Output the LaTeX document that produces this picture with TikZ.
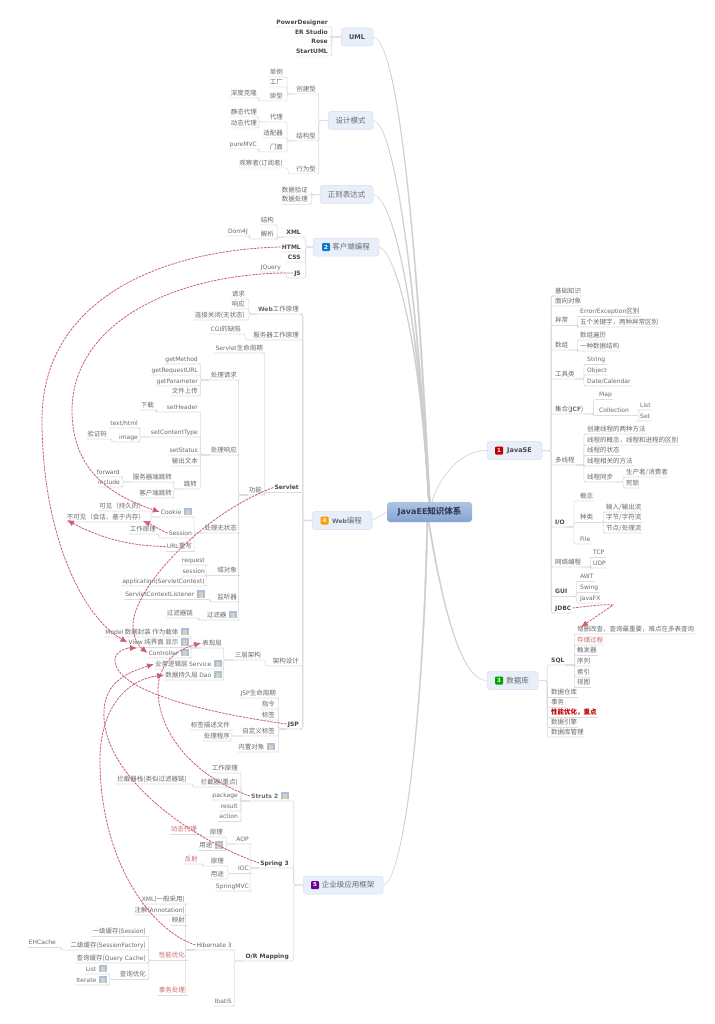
\documentclass[tikz,border=0pt]{standalone}
\usepackage{fontspec}
\usetikzlibrary{arrows.meta,calc}
\setmainfont{Noto Sans CJK SC}
\newfontfamily\latf{DejaVu Sans}
\newcommand\En[1]{{\latf\fontsize{6}{8}\selectfont #1}}
\definecolor{txt}{HTML}{6A6A6A}
\definecolor{txtb}{HTML}{484848}
\definecolor{ln}{HTML}{DDDDDD}
\definecolor{spk}{HTML}{CDCDCD}
\definecolor{redl}{HTML}{CB5F73}
\definecolor{redt}{HTML}{CF6A6A}
\definecolor{boxf}{HTML}{E8EFFA}
\definecolor{boxd}{HTML}{D6E0F0}
\definecolor{rootT}{HTML}{AFC4E4}
\definecolor{rootB}{HTML}{84A3D2}
\definecolor{rootC}{HTML}{2F3B55}
\newcommand\ico{\kern3pt\raisebox{-0.8pt}{\rlap{\textcolor[HTML]{A9BFE0}{\rule{7.5pt}{7.5pt}}}\kern1.5pt\rlap{\textcolor[HTML]{D9D2B0}{\rule{4pt}{5.5pt}}}\kern-1.5pt\kern7.5pt}}
\tikzset{
 t/.style={inner xsep=1pt,inner ysep=1pt,text height=6pt,text depth=1.5pt,text=txt,font=\fontsize{6.5}{8}\selectfont},
 lt/.style={t,anchor=east},
 rt/.style={t,anchor=west},
 en/.style={font=\latf\fontsize{6}{8}\selectfont},
 enb/.style={font=\latf\bfseries\fontsize{6}{8}\selectfont,text=txtb},
 rd/.style={text=redt},
 mainbox/.style={rectangle,rounded corners=3pt,fill=boxf,draw=boxd,line width=.5pt,minimum height=18pt,inner sep=0pt,text=txt,font=\fontsize{7.5}{9}\selectfont},
 rootbox/.style={rectangle,rounded corners=3pt,top color=rootT,bottom color=rootB,minimum height=20pt,inner sep=0pt,text=rootC,font=\bfseries\fontsize{8.5}{10}\selectfont},
 numi/.style={rectangle,rounded corners=1pt,fill=#1,minimum size=8pt,inner sep=0pt,text=white,font=\latf\bfseries\fontsize{5.5}{6}\selectfont},
 branch/.style={draw=ln,line width=.6pt,rounded corners=2pt},
 spoke/.style={fill=spk,draw=spk,line width=.2pt},
 rel/.style={draw=redl,line width=.8pt,dash pattern=on 2.5pt off 1pt,-{Latex[length=7pt,width=6pt]}},
 x=1pt,y=-1pt
}
% branches: \bx from a main box, \bl from a labelled node (left-growing), \br, \ry likewise (right-growing)
\newcommand\bx[3]{\foreach \c in {#3}{\draw[branch] (#1.west) -- ++(-#2,0) |- (\c.south east) -- (\c.south west);}}
\newcommand\bl[3]{\foreach \c in {#3}{\draw[branch] (#1.south west) -- ++(-#2,0) |- (\c.south east) -- (\c.south west);}}
\newcommand\ry[3]{\foreach \c in {#3}{\draw[branch] (#1.east) -- ++(#2,0) |- (\c.south west) -- (\c.south east);}}
\newcommand\br[3]{\foreach \c in {#3}{\draw[branch] (#1.south east) -- ++(#2,0) |- (\c.south west) -- (\c.south east);}}
\begin{document}
\begin{tikzpicture}
\path[use as bounding box,fill=white] (0,0) rectangle (714,1024);
% main boxes
\node[rootbox,minimum width=85pt] (root) at (429.5,512) {\En{\bfseries\fontsize{8}{10}\selectfont JavaEE}知识体系};
\node[mainbox,minimum width=32pt,font=\latf\bfseries\fontsize{6.5}{8}\selectfont,text=txtb] (uml) at (357,37) {UML};
\node[mainbox,minimum width=45pt] (sjms) at (350.5,120.5) {设计模式};
\node[mainbox,minimum width=53pt] (zz) at (346.5,194.5) {正则表达式};
\node[mainbox,minimum width=66pt] (khd) at (346,247) {\kern10pt 客户端编程};
\node[mainbox,minimum width=60pt] (web) at (342,520.5) {\kern10pt\En{\bfseries Web}编程};
\node[mainbox,minimum width=80pt] (qyj) at (343,885) {\kern10pt 企业级应用框架};
\node[mainbox,minimum width=55pt,font=\latf\bfseries\fontsize{6.5}{8}\selectfont,text=txtb] (jse) at (514.5,450.5) {\kern10pt JavaSE};
\node[mainbox,minimum width=51pt] (db) at (512.5,680.5) {\kern10pt 数据库};
\node[numi=red!75!black] (n1) at (499,450.5) {1};
\node[numi=cyan!55!blue] (n2) at (326,247) {2};
\node[numi=orange!75!yellow] (n4) at (324.5,520.5) {4};
\node[numi=violet!85!blue] (n5) at (315,885) {5};
\node[numi=green!65!black] (n3) at (499,680.5) {3};
% spokes
\fill[spoke] (root.north)++(-1.2,0) .. controls (415,200) and (395,40) .. (uml.east) .. controls (395.5,40) and (416,200) .. ($(root.north)+(.8,0)$) -- cycle;
\fill[spoke] (root.north)++(-1.2,0) .. controls (412,230) and (390,122) .. (sjms.east) .. controls (390.5,122) and (413,230) .. ($(root.north)+(.8,0)$) -- cycle;
\fill[spoke] (root.north)++(-1.2,0) .. controls (415,280) and (390,197) .. (zz.east) .. controls (390.5,197) and (416,280) .. ($(root.north)+(.8,0)$) -- cycle;
\fill[spoke] (root.north)++(-1.2,0) .. controls (418,320) and (392,250) .. (khd.east) .. controls (392.5,250) and (419,320) .. ($(root.north)+(.8,0)$) -- cycle;
\draw[draw=spk,line width=.6pt] (root.north)++(2.5,0) .. controls (442,470) and (465,450) .. (jse.west);
\draw[draw=ln,line width=.7pt] (web.east) -- (root.west);
\fill[spoke] (root.south)++(0,0) .. controls (450,650) and (470,680) .. (db.west) .. controls (470,680.5) and (449,650) .. ($(root.south)+(-1.5,0)$) -- cycle;
\fill[spoke] (root.south)++(-3,0) .. controls (423,700) and (405,880) .. (qyj.east) .. controls (405,880.5) and (424.5,700) .. ($(root.south)+(-1.5,0)$) -- cycle;
% UML
\node[lt,enb] (pd) at (329,22) {PowerDesigner};
\node[lt,enb] (ers) at (329,32) {ER Studio};
\node[lt,enb] (rose) at (329,41) {Rose};
\node[lt,enb] (suml) at (329,51) {StartUML};
\bx{uml}{9}{pd,ers,rose,suml}
% design patterns
\node[lt] (cjx) at (317,89) {创建型};
\node[lt] (jgx) at (317,136) {结构型};
\node[lt] (xwx) at (317,169) {行为型};
\bx{sjms}{9}{cjx,jgx,xwx}
\node[lt] (dl) at (284,72) {单例};
\node[lt] (gc) at (284,82) {工厂};
\node[lt] (yx) at (284,96) {原型};
\bl{cjx}{8}{dl,gc,yx}
\node[lt] (sdkl) at (258,93) {深度克隆};
\bl{yx}{10}{sdkl}
\node[lt] (dai) at (284,117) {代理};
\node[lt] (spq) at (284,133) {适配器};
\node[lt] (mm) at (284,147) {门面};
\bl{jgx}{8}{dai,spq,mm}
\node[lt] (jtdl) at (258,112) {静态代理};
\node[lt] (dtdl) at (258,123) {动态代理};
\bl{dai}{10}{jtdl,dtdl}
\node[lt,en] (pmvc) at (258,144) {pureMVC};
\bl{mm}{10}{pmvc}
\node[lt] (gcz) at (284,163) {观察者(订阅者)};
\bl{xwx}{7}{gcz}
% regex
\node[lt] (sjyz) at (309,190) {数据验证};
\node[lt] (sjcl) at (309,199.5) {数据处理};
\bx{zz}{8}{sjyz,sjcl}
% client
\node[lt,enb] (xml) at (302,232) {XML};
\node[lt,enb] (html) at (302,247) {HTML};
\node[lt,enb] (css) at (302,257) {CSS};
\node[lt,enb] (js) at (302,273) {JS};
\bx{khd}{7}{xml,html,css,js}
\node[lt] (jg) at (275,220) {结构};
\node[lt] (jx) at (275,234) {解析};
\bl{xml}{8}{jg,jx}
\node[lt,en] (dom) at (249,231) {Dom4J};
\bl{jx}{10}{dom}
\node[lt,en] (jq) at (282,267) {JQuery};
\bl{js}{7}{jq}
% web
\node[lt] (wgz) at (300,309) {\En{\bfseries Web}工作原理};
\node[lt] (fwq) at (300,335) {服务器工作原理};
\node[lt,enb] (servlet) at (300,487.5) {Servlet};
\node[lt] (jgsj) at (300,661) {架构设计};
\node[lt,enb] (jsp) at (300,724) {JSP};
\bx{web}{9}{wgz,fwq,servlet,jgsj,jsp}
\foreach \c in {wgz,jsp}{\draw[draw=ln,line width=1.2pt,rounded corners=2pt] (web.west) -- ++(-9,0) |- (\c.south east);}
\node[lt] (qq) at (246,294) {请求};
\node[lt] (xy) at (246,304) {响应};
\node[lt] (ljgb) at (246,315) {连接关闭(无状态)};
\bl{wgz}{8}{qq,xy,ljgb}
\node[lt] (cgi) at (242,329) {\En{CGI}的缺陷};
\bl{fwq}{7}{cgi}
\node[lt] (smzq) at (264,348) {\En{Servlet}生命周期};
\node[lt] (gn) at (263,490) {功能};
\bl{servlet}{9}{smzq,gn}
\node[lt] (clqq) at (238,375) {处理请求};
\node[lt] (clxy) at (238,450) {处理响应};
\node[lt] (clwz) at (238,528) {处理无状态};
\node[lt] (ydx) at (238,570.5) {域对象};
\node[lt] (jtq) at (238,597) {监听器};
\node[lt] (glq) at (238,615) {过滤器\ico};
\bl{gn}{9}{clqq,clxy,clwz,ydx,jtq,glq}
\node[lt,en] (gm) at (199,359) {getMethod};
\node[lt,en] (gr) at (199,370) {getRequestURL};
\node[lt,en] (gp) at (199,381) {getParameter};
\node[lt] (wjsc) at (199,391) {文件上传};
\bl{clqq}{9}{gm,gr,gp,wjsc}
\node[lt,en] (sh) at (199,407) {setHeader};
\node[lt,en] (sct) at (199,432) {setContentType};
\node[lt,en] (ss) at (199,450) {setStatus};
\node[lt] (scwb) at (199,461) {输出文本};
\node[lt] (tz) at (198,484) {跳转};
\bl{clxy}{9}{sh,sct,ss,scwb,tz}
\node[lt] (xz) at (155,405) {下载};
\bl{sh}{9}{xz}
\node[lt,en] (th) at (139,423) {text/html};
\node[lt,en] (img) at (139,437) {image};
\bl{sct}{10}{th,img}
\node[lt] (yzm) at (108,434) {验证码};
\bl{img}{6}{yzm}
\node[lt] (fwd) at (173,477) {服务器端跳转};
\node[lt] (khtz) at (173,493) {客户端跳转};
\bl{tz}{9}{fwd,khtz}
\node[lt,en] (fw) at (121,472) {forward};
\node[lt,en] (inc) at (121,482) {include};
\bl{fwd}{9}{fw,inc}
\node[lt] (cookie) at (193,512) {\En{Cookie}\ico};
\node[lt,en] (sess) at (193,533) {Session};
\node[lt] (url) at (193,546.5) {\En{URL}重写};
\bl{clwz}{9}{cookie,sess,url}
\node[lt] (kj) at (146,506) {可见（持久的）};
\node[lt] (bkj) at (146,517) {不可见（会话，基于内存）};
\bl{cookie}{9}{kj,bkj}
\node[lt] (gzyl) at (157,529) {工作原理};
\bl{sess}{9}{gzyl}
\node[lt,en] (req) at (206,560) {request};
\node[lt,en] (sn) at (206,571) {session};
\node[lt,en] (app) at (206,581) {application(ServletContext)};
\bl{ydx}{10}{req,sn,app}
\node[lt] (scl) at (206,594.5) {\En{ServletContextListener}\ico};
\bl{jtq}{6}{scl}
\node[lt] (glql) at (194,613) {过滤器链};
\bl{glq}{7}{glql}
\node[lt] (scjg) at (262,655) {三层架构};
\bl{jgsj}{6}{scjg}
\node[lt] (bxc) at (223,643) {表现层};
\node[lt] (svc) at (223,664) {业务逻辑层 \En{Service}\ico};
\node[lt] (dao) at (223,675) {数据持久层 \En{Dao}\ico};
\bl{scjg}{10}{bxc,svc,dao}
\node[lt] (model) at (190,632) {\En{Model} 数据封装 作为载体\ico};
\node[lt] (view) at (190,642.5) {\En{View} 纯界面 显示\ico};
\node[lt] (ctrl) at (190,653) {\En{Controller}\ico};
\bl{bxc}{10}{model,view,ctrl}
\node[lt] (jspsm) at (277,693) {\En{JSP}生命周期};
\node[lt] (zl) at (276,704) {指令};
\node[lt] (bq) at (276,715) {标签};
\node[lt] (zdy) at (276,731) {自定义标签};
\node[lt] (nz) at (276,747) {内置对象\ico};
\bl{jsp}{8}{jspsm,zl,bq,zdy,nz}
\node[lt] (bqms) at (231,725) {标签描述文件};
\node[lt] (clcx) at (231,736) {处理程序};
\bl{zdy}{10}{bqms,clcx}
% enterprise
\node[lt] (struts) at (290,796) {\En{\bfseries Struts 2}\ico};
\node[lt,enb] (spring) at (290,863) {Spring 3};
\node[lt,enb] (orm) at (290,956) {O/R Mapping};
\bx{qyj}{9}{struts,spring,orm}
\node[lt] (gz2) at (239,768) {工作原理};
\node[lt] (ljq) at (239,782) {拦截器(重点)};
\node[lt,en] (pkg) at (239,795) {package};
\node[lt,en] (res) at (239,806) {result};
\node[lt,en] (act) at (239,816.5) {action};
\bl{struts}{9}{gz2,ljq,pkg,res,act}
\node[lt] (ljz) at (188,779) {拦截器栈(类似过滤器链)};
\bl{ljq}{7}{ljz}
\node[lt,en] (aop) at (250,839) {AOP};
\node[lt,en] (ioc) at (250,868.5) {IOC};
\node[lt,en] (smvc) at (250,886) {SpringMVC};
\bl{spring}{9}{aop,ioc,smvc}
\node[lt] (yl1) at (224,832) {原理};
\node[lt] (yt1) at (224,845.5) {用途\ico};
\bl{aop}{9}{yl1,yt1}
\node[lt,rd] (dd2) at (198,829.5) {动态代理};
\bl{yl1}{7}{dd2}
\node[lt] (yl2) at (225,861) {原理};
\node[lt] (yt2) at (225,874) {用途};
\bl{ioc}{9}{yl2,yt2}
\node[lt,rd] (fs) at (199,859) {反射};
\bl{yl2}{7}{fs}
\node[lt] (hib) at (233,945) {\En{Hibernate 3}};
\node[lt,en] (ibs) at (233,1001) {IbatiS};
\bl{orm}{10}{hib,ibs}
\node[lt] (hx) at (186,899) {\En{XML}(一般采用)};
\node[lt] (hz) at (186,910) {注解(\En{Annotation})};
\node[lt] (ys) at (186,920.5) {映射};
\node[lt,rd] (xn) at (186,955.5) {性能优化};
\node[lt,rd] (sw) at (186,990.5) {事务处理};
\bl{hib}{10}{hx,hz,ys,xn,sw}
\node[lt] (c1) at (147,931.5) {一级缓存(\En{Session})};
\node[lt] (c2) at (147,945) {二级缓存(\En{SessionFactory})};
\node[lt] (c3) at (147,958) {查询缓存(\En{Query Cache})};
\node[lt] (cy) at (147,974.5) {查询优化};
\bl{xn}{9}{c1,c2,c3,cy}
\node[lt,en] (ehc) at (57,942.5) {EHCache};
\bl{c2}{8}{ehc}
\node[lt] (lst) at (108,969) {\En{List}\ico};
\node[lt] (itr) at (108,980) {\En{Iterate}\ico};
\bl{cy}{9}{lst,itr}
% JavaSE
\node[rt] (a1) at (554,291) {基础知识};
\node[rt] (a2) at (554,301) {面向对象};
\node[rt] (a3) at (554,320.5) {异常};
\node[rt] (a4) at (554,345) {数组};
\node[rt] (a5) at (554,374) {工具类};
\node[rt] (a6) at (554,409) {集合(\En{\bfseries JCF})};
\node[rt] (a7) at (554,460) {多线程};
\node[rt,enb] (a8) at (554,522) {I/O};
\node[rt] (a9) at (554,562) {网络编程};
\node[rt,enb] (a10) at (554,591.5) {GUI};
\node[rt,enb] (a11) at (554,608) {JDBC};
\ry{jse}{9}{a1,a2,a3,a4,a5,a6,a7,a8,a9,a10,a11}
\draw[draw=ln,line width=1pt,rounded corners=2pt] (jse.east) -- ++(9,0) |- (a1.south west);
\draw[draw=ln,line width=1pt,rounded corners=2pt] (jse.east) -- ++(9,0) |- (a11.south west);
\node[rt] (b1) at (579,311.5) {\En{Error/Exception}区别};
\node[rt] (b2) at (579,322) {五个关键字，两种异常区别};
\br{a3}{8}{b1,b2}
\node[rt] (b3) at (579,335) {数组遍历};
\node[rt] (b4) at (579,346) {一种数据结构};
\br{a4}{8}{b3,b4}
\node[rt,en] (b5) at (586,359.5) {String};
\node[rt,en] (b6) at (586,370) {Object};
\node[rt,en] (b7) at (586,381) {Date/Calendar};
\br{a5}{8}{b5,b6,b7}
\node[rt,en] (b8) at (598,394.5) {Map};
\node[rt,en] (b9) at (598,410.5) {Collection};
\br{a6}{9}{b8,b9}
\node[rt,en] (b10) at (639,405) {List};
\node[rt,en] (b11) at (639,416) {Set};
\br{b9}{9}{b10,b11}
\node[rt] (t1) at (586,429) {创建线程的两种方法};
\node[rt] (t2) at (586,440) {线程的概念，线程和进程的区别};
\node[rt] (t3) at (586,450.5) {线程的状态};
\node[rt] (t4) at (586,461) {线程相关的方法};
\node[rt] (t5) at (586,477) {线程同步};
\br{a7}{8}{t1,t2,t3,t4,t5}
\node[rt] (t6) at (625,472) {生产者/消费者};
\node[rt] (t7) at (625,483) {死锁};
\br{t5}{9}{t6,t7}
\node[rt] (i1) at (579,496) {概念};
\node[rt] (i2) at (579,517.5) {种类};
\node[rt,en] (i3) at (579,539) {File};
\br{a8}{8}{i1,i2,i3}
\node[rt] (i4) at (605,507) {输入/输出流};
\node[rt] (i5) at (605,517.5) {字节/字符流};
\node[rt] (i6) at (605,528) {节点/处理流};
\br{i2}{9}{i4,i5,i6}
\node[rt,en] (n6) at (592,552.5) {TCP};
\node[rt,en] (n7) at (592,563) {UDP};
\br{a9}{8}{n6,n7}
\node[rt,en] (g1) at (579,576.5) {AWT};
\node[rt,en] (g2) at (579,587.5) {Swing};
\node[rt,en] (g3) at (579,598) {JavaFX};
\br{a10}{8}{g1,g2,g3}
% database
\node[rt,enb] (sql) at (550,660) {SQL};
\node[rt] (d1) at (550,692.5) {数据仓库};
\node[rt] (d2) at (550,702.5) {事务};
\node[rt,text=red!75!black,font=\bfseries\fontsize{6.5}{8}\selectfont] (d3) at (550,712.5) {性能优化，重点};
\node[rt] (d4) at (550,722.5) {数据引擎};
\node[rt] (d5) at (550,732) {数据库管理};
\ry{db}{9}{sql,d1,d2,d3,d4,d5}
\node[rt] (s1) at (576,629) {增删改查，查询最重要，难点在多表查询};
\node[rt,rd] (s2) at (576,640) {存储过程};
\node[rt] (s3) at (576,650.5) {触发器};
\node[rt] (s4) at (576,661) {序列};
\node[rt] (s5) at (576,672) {索引};
\node[rt] (s6) at (576,682.5) {视图};
\br{sql}{9}{s1,s2,s3,s4,s5,s6}
% relations
\draw[rel] (html.west) .. controls (160,250) and (42,300) .. (42,420) .. controls (42,530) and (80,615) .. (view.west);
\draw[rel] (js.west) .. controls (180,272) and (73,320) .. (72,410) .. controls (72,470) and (110,495) .. (cookie.west);
\draw[rel] (sess.west) .. controls (160,530) and (152,525) .. (143,521);
\draw[rel] (url.west) .. controls (130,546) and (100,538) .. (67,520);
\draw[rel] (servlet.west) .. controls (200,515) and (133,590) .. (133,625) .. controls (133,640) and (140,647) .. (ctrl.west);
\draw[rel] (jsp.west) .. controls (200,712) and (115,690) .. (115,660) .. controls (115,652) and (125,648) .. (137,648);
\draw[rel] (struts.west) .. controls (190,775) and (158,730) .. (158,690) .. controls (158,665) and (175,650) .. (bxc.west);
\draw[rel] (spring.west) .. controls (180,835) and (100,770) .. (104,710) .. controls (106,680) and (130,672) .. (svc.west);
\draw[rel] (hib.west) .. controls (150,930) and (100,860) .. (100,760) .. controls (100,710) and (125,680) .. (dao.west);
\draw[rel] (a11.east) .. controls (590,606) and (605,604) .. (613,605) -- (581,627);
\end{tikzpicture}
\end{document}
